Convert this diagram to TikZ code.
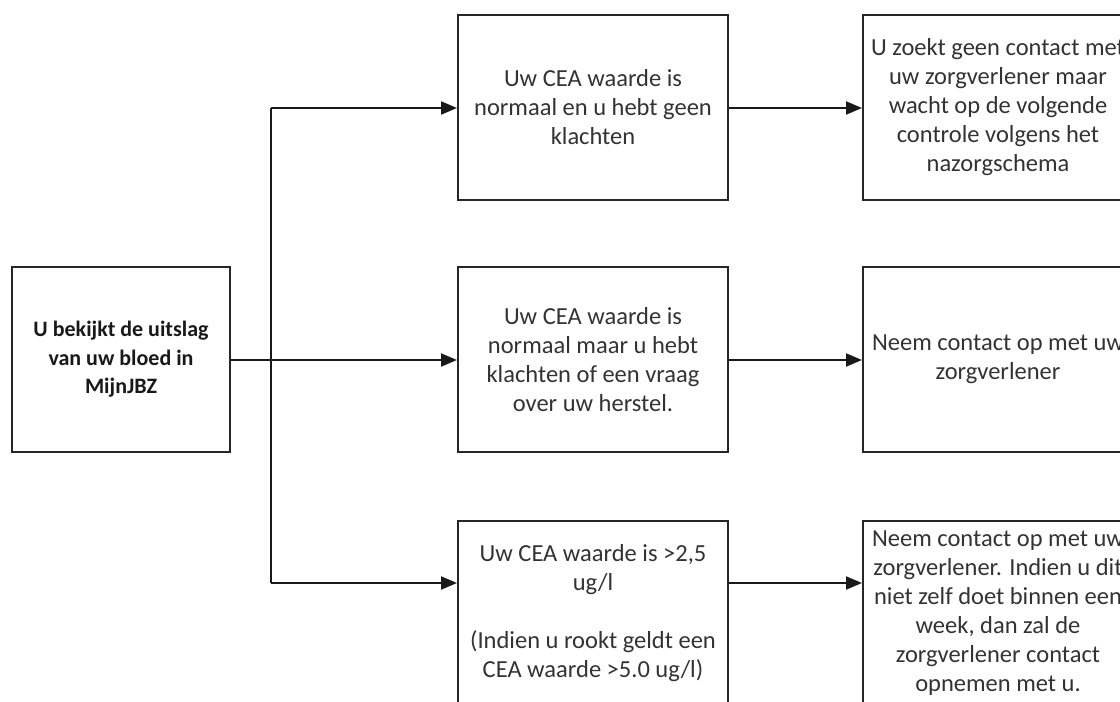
\documentclass[tikz,border=0pt]{standalone}
\usepackage{fontspec}
\setmainfont{Carlito}
\usetikzlibrary{arrows.meta}
\begin{document}
\begin{tikzpicture}[x=1pt,y=-1pt,
  box/.style={draw=black!85, line width=2pt, minimum width=270pt, minimum height=185pt,
    align=center, font=\fontsize{24.5}{29}\selectfont, text=black!80, inner sep=2pt},
  conn/.style={line width=2pt, draw=black!90},
  arr/.style={conn, -{Triangle[length=16pt,width=13pt]}}]
\useasboundingbox (0,0) rectangle (1120,702);
\clip (0,0) rectangle (1120,702);
\fill[white] (0,0) rectangle (1120,702);

\node[box, minimum width=218pt, font=\fontsize{22}{28.5}\selectfont\bfseries, text=black!90] (start) at (121,359.5)
  {U bekijkt de uitslag\\van uw bloed in\\MijnJBZ};

\node[box] (b1) at (593,107) {Uw CEA waarde is\\normaal en u hebt geen\\klachten};
\node[box] (b2) at (593,359.5) {Uw CEA waarde is\\normaal maar u hebt\\klachten of een vraag\\over uw herstel.};
\node[box] (b3) at (593,613.5) {Uw CEA waarde is >2,5\\ug/l\\[29pt](Indien u rookt geldt een\\CEA waarde >5.0 ug/l)};

\node[box] (c1) at (998,107) {U zoekt geen contact met\\uw zorgverlener maar\\wacht op de volgende\\controle volgens het\\nazorgschema};
\node[box] (c2) at (998,359.5) {Neem contact op met uw\\zorgverlener};
\node[box] (c3) at (998,613.5) {Neem contact op met uw\\zorgverlener. Indien u dit\\niet zelf doet binnen een\\week, dan zal de\\zorgverlener contact\\opnemen met u.};

\coordinate (tt) at (271,108);
\coordinate (tm) at (271,360);
\coordinate (tb) at (271,583);

\draw[conn] (start.east |- tm) -- (tm);
\draw[conn] (tt) -- (tb);
\draw[arr] (tt) -- (b1.west |- tt);
\draw[arr] (tm) -- (b2.west |- tm);
\draw[arr] (tb) -- (b3.west |- tb);

\draw[arr] (b1.east |- tt) -- (c1.west |- tt);
\draw[arr] (b2.east |- tm) -- (c2.west |- tm);
\draw[arr] (b3.east |- tb) -- (c3.west |- tb);
\end{tikzpicture}
\end{document}
